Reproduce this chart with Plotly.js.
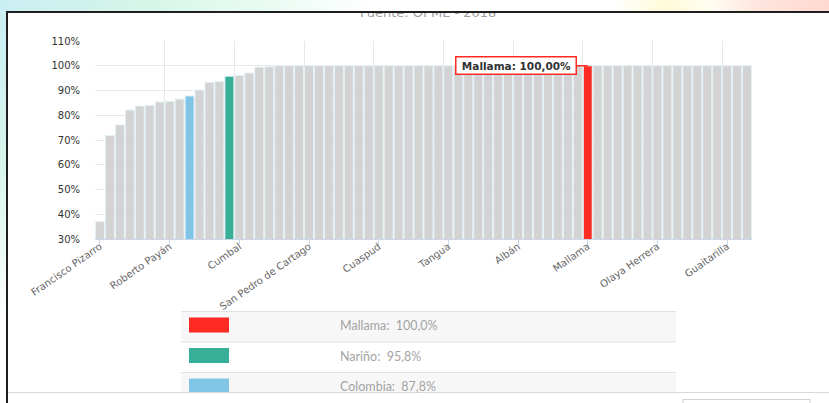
<!DOCTYPE html>
<html><head><meta charset="utf-8">
<script src="https://cdn.plot.ly/plotly-3.0.1.min.js"></script>
<style>
html,body{margin:0;padding:0;width:829px;height:403px;overflow:hidden;background:#fff;}
#bgtop{position:absolute;left:0;top:0;width:829px;height:12px;background:linear-gradient(to right,#cbeef3 0%,#d6f6e8 18%,#e9fbf3 32%,#ffffff 45%,#ffffff 74%,#fffbd9 80%,#fffdf0 86%,#ffe6df 91%,#ffd9cf 100%);}
#bgleft{position:absolute;left:0;top:0;width:7px;height:403px;background:linear-gradient(to bottom,#cbeef3 0%,#d6f5ec 40%,#eefaf7 65%,#ffffff 80%);}
#card{position:absolute;left:6px;top:11px;width:823px;height:392px;border-top:2px solid #1e1e1e;border-left:2px solid #1e1e1e;background:#fff;overflow:hidden;}
#chart{width:821px;height:390px;}
</style></head>
<body>
<div id="bgtop"></div><div id="bgleft"></div>
<div id="card"><div id="chart"></div></div>
<script>
// ---- data ----
const categories = [
 "Francisco Pizarro","Magüí","El Charco","La Tola","Mosquera","Barbacoas","Santa Bárbara","Roberto Payán","Tumaco","Colombia",
 "Policarpa","Cumbitara","Leiva","Nariño","Cumbal","Ricaurte","El Rosario","Ipiales","Pasto","Aldana",
 "Ancuyá","San Pedro de Cartago","Arboleda","Belén","Buesaco","Chachagüí","Colón","Consacá","Cuaspud","Contadero",
 "Córdoba","El Peñol","El Tablón de Gómez","El Tambo","Funes","Tangua","Guachucal","Gualmatán","Iles","Imués",
 "La Cruz","La Florida","Albán","La Llanada","La Unión","Linares","Los Andes","Ospina","Potosí","Mallama",
 "Providencia","Puerres","Pupiales","Samaniego","San Bernardo","San Lorenzo","Olaya Herrera","San Pablo","Sandoná","Santacruz",
 "Sapuyes","Taminango","Túquerres","Guaitarilla","Yacuanquer","Nariño (municipio)"
];
const values = [
 37.0,71.8,76.1,82.1,83.7,84.0,85.4,85.6,86.5,87.8,
 90.2,93.3,93.6,95.8,96.1,97.1,99.4,99.6,100,100,
 100,100,100,100,100,100,100,100,100,100,
 100,100,100,100,100,100,100,100,100,100,
 100,100,100,100,100,100,100,100,100,100,
 100,100,100,100,100,100,100,100,100,100,
 100,100,100,100,100,100
];
const tickLabels = ["Francisco Pizarro","Roberto Payán","Cumbal","San Pedro de Cartago","Cuaspud","Tangua","Albán","Mallama","Olaya Herrera","Guaitarilla"];
const highlightNames = ["Mallama","Nariño","Colombia"];
const highlightColors = ["#fe2b25","#37ae96","#80c4e6"];
const baseColor = "#d3d3d3";
const tooltipName = "Mallama";
const sourceText = "Fuente: OPME - 2018";

// ---- helpers ----
const W = 821, H = 390, L = 87, R = 77, T = 28, B = 164;
const PW = W - L - R, PH = H - T - B;
const xp = px => (px - 8 - L) / PW;          // window px -> paper x
const yp = py => (H - B - (py - 13)) / PH;  // window px -> paper y

const xIdx = categories.map((_, i) => i);
const barColors = categories.map(n => {
  const k = highlightNames.indexOf(n);
  return k >= 0 ? highlightColors[k] : baseColor;
});
const fmt = (v, d) => v.toFixed(d).replace('.', ',');
const tickvals = tickLabels.map(n => categories.indexOf(n));
const tickStep = tickvals[1] - tickvals[0];

const trace = {
  type: 'bar', x: xIdx, y: values, customdata: categories,
  marker: {color: barColors, line: {color: '#e4f1f6', width: 1}},
  hovertemplate: '%{customdata}: %{y:.2f}%<extra></extra>'
};

const shapes = [];
const annotations = [];

// legend table
const rowTops = [311.5, 342, 372.5];
const rowH = 30.5;
rowTops.forEach((top, i) => {
  if (i !== 1) shapes.push({type:'rect', xref:'paper', yref:'paper', x0:xp(181), x1:xp(676), y0:yp(top), y1:yp(top+rowH), fillcolor:'#f7f7f7', line:{width:0}, layer:'above'});
  shapes.push({type:'line', xref:'paper', yref:'paper', x0:xp(181), x1:xp(676), y0:yp(top), y1:yp(top), line:{color:'#e2e2e2', width:1}, layer:'above'});
  shapes.push({type:'rect', xref:'paper', yref:'paper', x0:xp(189), x1:xp(229), y0:yp(top+6), y1:yp(top+21), fillcolor:highlightColors[i], line:{width:0}, layer:'above'});
  const name = highlightNames[i];
  const v = values[categories.indexOf(name)];
  annotations.push({xref:'paper', yref:'paper', x:xp(338), y:yp(top+14), xanchor:'left', yanchor:'middle', showarrow:false,
    text: name + ':\u00a0 ' + fmt(v, 1) + '%', font:{family:'Lato', size:12.5, color:'#a3a3a3'}});
});
// bottom card cover
shapes.push({type:'rect', xref:'paper', yref:'paper', x0:xp(8), x1:xp(830), y0:yp(392.5), y1:yp(404), fillcolor:'#ffffff', line:{width:0}, layer:'above'});
shapes.push({type:'line', xref:'paper', yref:'paper', x0:xp(8), x1:xp(830), y0:yp(392.5), y1:yp(392.5), line:{color:'#d9d9d9', width:1}, layer:'above'});
shapes.push({type:'rect', xref:'paper', yref:'paper', x0:xp(683), x1:xp(810), y0:yp(399.5), y1:yp(410), fillcolor:'#ffffff', line:{color:'#cfcfcf', width:1}, layer:'above'});

// source line (partly hidden by card top, as in the reference)
annotations.push({xref:'paper', yref:'paper', x:xp(428), y:yp(13), xanchor:'center', yanchor:'middle', showarrow:false,
  text: sourceText, font:{family:'DejaVu Sans', size:13, color:'#a0a0a0'}});

// tooltip
const ti = categories.indexOf(tooltipName);
annotations.push({xref:'x', yref:'y', x: ti, y: values[ti], showarrow:true, arrowhead:0, arrowwidth:1.5, arrowcolor:'#fe2b25',
  ax:-11, ay:0, xanchor:'right', yanchor:'middle', bgcolor:'#ffffff', bordercolor:'#fe2b25', borderwidth:1.5, borderpad:2,
  text:'\u00a0<b>' + tooltipName + ': ' + fmt(values[ti], 2) + '%</b>\u00a0', font:{family:'DejaVu Sans', size:10.5, color:'#333'}});

const layout = {
  width: W, height: H, margin: {l:L, r:R, t:T, b:B, pad:0},
  paper_bgcolor:'#ffffff', plot_bgcolor:'#ffffff', showlegend:false, bargap:0.1,
  xaxis: {range:[-0.5, categories.length - 0.5], tickmode:'array', tickvals: tickvals,
    ticktext: tickvals.map(i => categories[i]), tickangle:-35, ticks:'outside', ticklen:5, tickcolor:'#ccd6eb',
    ticklabelstandoff:-8,
    showline:true, linecolor:'#ccd6eb', linewidth:1, showgrid:false, zeroline:false,
    minor:{tick0:-0.5, dtick:tickStep, showgrid:true, gridcolor:'#e8e8e8', gridwidth:1, ticks:''},
    tickfont:{family:'DejaVu Sans', size:10, color:'#666'}},
  yaxis: {range:[30,110], tick0:30, dtick:10, ticksuffix:'%', showgrid:true, gridcolor:'#e8e8e8', gridwidth:1,
    zeroline:false, showline:false, ticks:'outside', ticklen:12, tickcolor:'rgba(0,0,0,0)',
    tickfont:{family:'DejaVu Sans', size:10, color:'#333'}},
  shapes: shapes, annotations: annotations
};
Plotly.newPlot('chart', [trace], layout, {displayModeBar:false, staticPlot:true});
</script>
</body></html>
